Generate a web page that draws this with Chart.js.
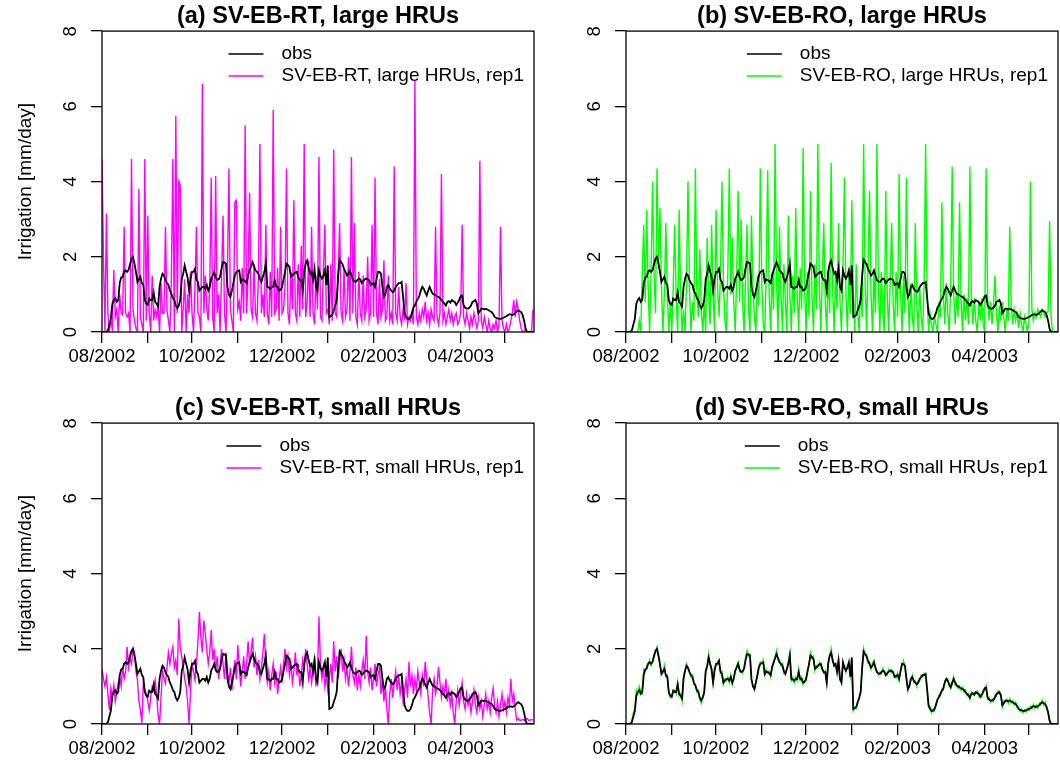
<!DOCTYPE html>
<html>
<head>
<meta charset="utf-8">
<script src="https://cdn.jsdelivr.net/npm/chart.js@4.4.1/dist/chart.umd.min.js"></script>
<style>
body{margin:0;background:#fff;}
#wrap{position:relative;width:1060px;height:769px;background:#fff;overflow:hidden;}
canvas{position:absolute;}
</style>
</head>
<body>
<div id="wrap">
<canvas id="pa" width="540" height="380" style="left:0;top:0"></canvas>
<canvas id="pb" width="536" height="380" style="left:524px;top:0"></canvas>
<canvas id="pc" width="540" height="377" style="left:0;top:392px"></canvas>
<canvas id="pd" width="536" height="377" style="left:524px;top:392px"></canvas>
</div>
<script>

// axis ticks (day offsets from 01/08/2002)
const monthTicks=[0,31,61,92,122,153,184,212,243,273];
const monthLabels=["08/2002","09/2002","10/2002","11/2002","12/2002","01/2003","02/2003","03/2003","04/2003","05/2003"];
const yTicks=[0,2,4,6,8];

// observed irrigation, mm/day (daily, from 01/08/2002)
const obs=[
0,0,0,0,0.05,0.2,0.35,0.75,0.85,0.9,
0.8,0.85,1.3,1.45,1.47,1.6,1.64,1.6,1.65,1.8,
1.95,2.0,1.82,1.6,1.33,1.4,1.47,1.3,1.25,0.85,
0.75,0.72,0.89,0.85,0.85,1.05,0.8,0.75,0.68,1.2,
1.42,1.55,1.5,1.38,1.3,1.25,1.1,1.02,0.9,0.85,
0.7,0.63,0.7,0.85,1.4,1.55,1.77,1.6,1.45,1.1,
1.42,1.6,1.6,1.68,1.4,1.33,1.1,1.15,1.2,1.2,
1.15,1.25,1.1,1.2,1.42,1.5,1.6,1.45,1.38,1.4,
1.47,1.7,1.86,1.85,1.82,1.2,1.0,0.93,1.1,1.3,
1.5,1.6,1.62,1.64,1.33,1.4,1.38,1.35,1.3,1.5,
1.64,1.75,1.86,1.75,1.64,1.6,1.55,1.4,1.33,1.47,
1.6,1.82,1.2,1.18,1.15,1.2,1.2,1.38,1.2,1.2,
1.1,1.12,1.2,1.4,1.6,1.82,1.78,1.73,1.47,1.5,
1.55,1.58,1.6,1.45,1.38,1.38,1.1,1.6,1.82,1.9,
1.7,1.55,1.6,1.38,1.68,1.2,1.1,1.64,1.5,1.42,
1.5,1.64,1.25,1.77,0.4,0.42,0.45,0.58,0.7,0.85,
1.5,1.93,1.86,1.8,1.68,1.6,1.5,1.55,1.64,1.5,
1.38,1.35,1.33,1.38,1.42,1.4,1.3,1.35,1.4,1.42,
1.4,1.38,1.25,1.28,1.3,1.2,1.4,1.6,1.6,1.55,
1.2,0.93,1.0,1.2,1.25,1.15,1.1,1.06,1.1,1.2,
1.25,1.3,1.3,1.33,0.93,0.5,0.4,0.35,0.35,0.4,
0.5,0.65,0.71,0.8,0.88,0.95,1.1,1.2,1.15,1.05,
0.97,1.1,1.2,1.1,1.02,1.0,0.97,0.95,0.93,0.9,
0.85,0.8,0.76,0.7,0.8,0.82,0.78,0.85,0.82,0.8,
0.72,0.78,0.85,0.95,0.97,0.71,0.65,0.62,0.62,0.65,
0.7,0.8,0.82,0.85,0.75,0.5,0.55,0.62,0.62,0.6,
0.62,0.6,0.58,0.55,0.53,0.48,0.4,0.38,0.36,0.35,
0.35,0.36,0.38,0.4,0.42,0.45,0.47,0.47,0.45,0.47,
0.5,0.55,0.58,0.55,0.53,0.45,0.3,0.08,0,0,
0,0,0];

// (a) SV-EB-RT, large HRUs
const rtLarge=[
4.6,2.0,0,3.15,0.5,0,0.3,0.1,1.65,0.4,
0.6,0,1.0,0.5,0.45,2.8,0.5,0.4,0.5,0,
4.6,0.6,0.3,0.1,0,3.8,0.4,0.2,0,4.6,
0.3,3.1,0.5,0,1.5,0.3,0.6,0.4,0.7,0,
1.3,0.5,0.5,2.8,0.6,0.3,0,1.4,4.6,0,
5.75,0.5,4.0,3.9,0,0.6,1.4,0,1.0,0.5,
1.6,0.5,0,1.2,2.8,0.5,0.4,0,6.6,0.5,
1.5,0.6,0.3,1.2,4.1,0.4,0,4.15,0.5,1.0,
0,1.5,3.1,0.5,0,1.6,4.35,0.6,0.3,0,
3.45,3.5,0.6,0.8,0.3,1.7,0.5,5.5,0.5,1.6,
3.7,0.6,0.4,1.8,0.5,0.3,1.5,5.0,0.5,1.0,
0.4,2.85,0.5,0.2,1.6,0.4,5.9,0.5,0.6,1.7,
0.3,2.8,0.5,0.6,1.2,4.35,0.5,0.2,1.6,0.6,
3.5,0.5,0.3,1.8,0.4,2.3,0.6,5.0,0.4,0.8,
1.9,0.4,2.8,0.5,0.2,1.5,0.6,4.65,0.4,0.3,
1.6,2.85,0.5,0.6,0.2,1.8,0.3,4.85,0.5,0.4,
1.5,2.9,0.5,0.3,1.7,0.4,0.6,2.0,0.3,4.65,
0.5,2.9,0.4,0.2,1.6,0.5,0.3,1.5,0.4,0.6,
2.0,0.3,0.5,2.85,0.4,4.1,0.5,0.2,1.4,0.4,
0.6,1.9,0.3,0.4,1.5,0.3,0.5,0.2,4.4,0.5,
0.3,1.2,0.4,0.2,0.6,0.3,1.3,0.2,0.4,0.3,
0.5,0.2,6.7,0.4,0.2,0.5,0.3,0.6,0.4,0.8,
0.3,0.5,0.2,0.6,0.4,0.3,2.8,0.4,0.2,0.5,
4.2,0.3,0.5,0.2,0.4,0.6,0.3,0.5,0.2,0.4,
0.5,0.2,0.3,0.5,2.85,0.4,0.2,0.5,0.3,0.1,
0.4,0.2,0.5,0.3,0.1,0.3,4.55,0.3,0.1,0.4,
0.2,0,0.3,0.1,0,0.2,0.1,0.3,0,0.2,
2.8,0.3,0.1,0,0.2,0,0.1,0.3,0.5,0.85,
0.4,0.8,0.6,0.3,0.1,0,0,0.1,0,0,
0,0,0.6];

// (b) SV-EB-RO, large HRUs
const roLarge=[
0,0,0,0,0,0,0,0,0,0.3,
0,1.5,2.85,0.8,3.25,1.2,0,1.6,4.0,1.5,
0.5,4.35,1.8,3.3,1.2,0,1.0,2.9,1.0,0,
0.8,0,1.2,2.85,0.9,0,3.25,1.0,0,0.6,
0,1.3,4.0,1.2,0,0.8,0.3,4.35,1.1,0.4,
2.2,0.6,0,0.8,0,2.5,1.0,0.2,2.85,1.0,
0,3.25,1.2,0.4,1.5,4.0,1.4,0.3,0,1.6,
4.35,1.0,2.5,0.8,0,1.5,3.75,0.8,3.0,0.8,
0,1.4,2.85,0.6,0,3.1,1.2,0.4,0,1.5,
0.7,4.35,1.3,0.2,0,1.6,4.3,1.0,0,1.6,
0.6,5.0,1.4,0,2.8,1.0,0,1.8,0.8,0,
3.1,1.0,0,1.5,0.5,3.3,1.0,0,1.7,0.6,
4.9,1.2,0,1.6,0.4,3.75,1.0,0,1.8,0.6,
5.0,1.2,0,1.5,2.9,0.8,0,1.6,0.5,4.5,
1.2,0,1.5,0.6,2.9,0.8,0,1.7,4.1,1.0,
0,1.6,0.5,3.5,1.0,0,1.8,0.5,0,1.2,
0.4,5.0,1.4,0,1.7,3.75,1.0,0,1.6,0.5,
5.0,1.2,0,1.6,0.5,0,3.75,1.0,0,1.4,
2.9,0.8,0,1.6,0.4,4.2,1.1,0,1.5,0.5,
4.1,1.0,0,1.3,0.4,0,2.9,0.8,0,1.2,
0.4,0,1.3,5.0,1.0,0,0.5,0.2,0,0.4,
0.2,0,0.8,0.4,3.45,1.0,0.2,1.3,0.5,0,
1.2,4.4,1.1,0.2,1.0,0.4,3.45,0.9,0,1.0,
0.3,0.9,0.2,4.4,1.0,0.2,0.9,0.3,0,0.8,
0.3,0.9,0.2,0,4.35,0.9,0.3,0.8,0.2,0.7,
1.5,0.5,0,0.7,0.3,0.8,0.4,0,0.6,0.3,
2.8,0.7,0.2,0.6,0.3,0.5,0.1,0.5,0.2,0,
0.4,0.2,0,0.3,4.0,0.6,0.3,0.5,0.4,0.6,
0.5,0.4,0.6,0.5,0.4,0.5,0.55,2.95,0.4,0,
0,0,0];

// (c) SV-EB-RT, small HRUs
const rtSmall=[
1.47,1.2,1.0,1.25,0.8,0.37,0.95,0.72,1.03,0.6,
0.86,1.1,1.25,1.0,1.52,1.2,1.39,2.05,1.5,1.74,
1.6,2.0,1.87,1.4,1.17,0.6,0.37,0.03,1.08,0.9,
0.81,0.6,0.37,0.72,1.0,0.9,1.17,0.8,0.24,0,
0.7,1.43,1.2,1.08,1.5,1.9,1.6,1.87,2.05,1.5,
1.7,1.3,2.8,2.05,1.8,1.52,1.2,1.0,0.6,0,
0.9,1.6,1.4,1.17,1.6,2.2,2.98,2.3,1.9,2.75,
2.4,1.96,1.6,1.9,2.5,1.7,2.0,1.4,1.8,1.2,
1.5,2.0,1.6,1.2,1.9,1.4,1.1,1.5,0.9,1.3,
1.7,1.2,2.1,1.5,1.0,1.4,1.8,1.2,1.6,2.2,
1.6,1.9,2.3,1.5,1.8,1.3,1.7,1.2,1.5,1.9,
2.4,1.5,1.1,1.4,0.9,1.3,1.6,1.1,1.4,0.8,
1.2,1.5,1.1,1.6,2.0,1.5,1.8,1.3,1.6,1.1,
1.4,1.9,1.3,1.6,1.0,1.3,1.7,1.4,2.0,1.6,
1.2,1.5,1.1,1.4,1.8,1.0,1.3,2.86,1.6,1.2,
1.5,1.0,1.3,0.9,1.2,1.6,1.1,2.2,1.4,1.8,
1.2,1.6,2.0,1.4,1.7,1.2,1.5,1.0,1.4,2.05,
1.3,1.1,1.5,0.9,1.3,1.0,1.4,1.7,1.2,2.34,
1.4,1.1,1.5,0.9,1.2,1.6,1.0,1.3,1.5,0.8,
1.2,0.6,1.0,0.4,0,0.8,1.2,0.7,1.1,1.4,
0.9,1.3,0.8,1.1,0.6,0.9,1.2,0.7,1.65,1.0,
1.3,0.8,1.2,0.9,1.4,1.1,0.8,1.3,1.0,1.65,
1.2,0.7,0.3,0,0.9,1.2,0.8,1.0,1.52,1.1,
0.7,1.0,0.8,1.2,0.6,0.9,0.5,0.8,0.3,0,
0.6,0.9,0.5,0.8,1.1,0.6,0.4,0.8,0.5,0.7,
0.3,0.6,0.9,0.5,0.3,0.7,0.4,0.6,0.2,0.5,
0.8,0.4,0.6,0.3,0.7,0.95,0.5,0.3,0.6,0.2,
0.5,0.8,0.4,0.6,0.3,0.7,0.5,1.2,0.6,0.8,
0.4,0.1,0.15,0.1,0.1,0.12,0.1,0.1,0.15,0.1,
0.1,0.12,0.1];

// (d) SV-EB-RO, small HRUs
const roSmall=[
0,0,0,0,0.1,0.3,0.4,0.9,0.8,1.0,
0.85,0.8,1.45,1.4,1.55,1.6,1.7,1.55,1.7,1.85,
1.9,2.05,1.8,1.55,1.4,1.35,1.55,1.25,1.3,0.8,
0.7,0.78,0.85,0.9,0.8,1.1,0.75,0.8,0.6,1.3,
1.4,1.6,1.45,1.4,1.25,1.3,1.05,1.05,0.85,0.9,
0.65,0.55,0.75,0.8,1.45,1.5,1.85,1.55,1.5,1.05,
1.5,1.55,1.65,1.7,1.35,1.4,1.05,1.2,1.15,1.25,
1.1,1.3,1.05,1.25,1.4,1.55,1.65,1.4,1.42,1.35,
1.5,1.75,1.95,1.8,1.85,1.15,1.05,0.9,1.15,1.25,
1.55,1.65,1.6,1.7,1.3,1.45,1.35,1.4,1.25,1.55,
1.6,1.8,1.95,1.7,1.7,1.55,1.6,1.35,1.4,1.45,
1.65,1.9,1.15,1.25,1.1,1.25,1.15,1.45,1.15,1.25,
1.05,1.15,1.15,1.45,1.55,1.9,1.75,1.8,1.42,1.55,
1.5,1.65,1.55,1.5,1.35,1.42,1.05,1.65,1.8,2.0,
1.65,1.6,1.55,1.42,1.75,1.15,1.15,1.6,1.55,1.38,
1.55,1.6,1.3,1.72,0.35,0.45,0.42,0.62,0.65,0.9,
1.45,2.0,1.82,1.85,1.62,1.65,1.45,1.6,1.7,1.45,
1.42,1.3,1.38,1.33,1.48,1.35,1.35,1.3,1.45,1.38,
1.45,1.33,1.3,1.22,1.35,1.15,1.45,1.55,1.68,1.5,
1.25,0.88,1.05,1.15,1.3,1.1,1.15,1.0,1.15,1.15,
1.3,1.25,1.35,1.3,0.98,0.45,0.45,0.3,0.4,0.35,
0.55,0.6,0.76,0.75,0.92,0.9,1.15,1.15,1.2,1.0,
1.02,1.05,1.25,1.05,1.08,0.95,1.02,0.9,0.98,0.85,
0.9,0.75,0.8,0.65,0.85,0.78,0.82,0.8,0.88,0.75,
0.78,0.72,0.9,0.9,1.02,0.66,0.7,0.58,0.66,0.6,
0.75,0.75,0.88,0.8,0.8,0.45,0.6,0.58,0.66,0.55,
0.67,0.55,0.62,0.5,0.58,0.43,0.45,0.33,0.4,0.3,
0.38,0.32,0.42,0.36,0.47,0.4,0.52,0.42,0.5,0.42,
0.55,0.5,0.63,0.5,0.58,0.4,0.35,0.12,0,0,
0,0,0];

const FONT="'Liberation Sans', Arial, sans-serif";
const PLOT_TOP=30, PLOT_BOTTOM=332, PLOT_LEFT=102, PLOT_RIGHT=534;

const toXY=arr=>arr.map((v,i)=>({x:i,y:v}));

// box, title and legend drawn R-style
const panelText={
id:"panelText",
afterDraw(chart,args,opts){
const ctx=chart.ctx;
const a=chart.chartArea;
ctx.save();
ctx.strokeStyle="#000";
ctx.lineWidth=1.3;
ctx.strokeRect(a.left,a.top,a.right-a.left,a.bottom-a.top);

ctx.fillStyle="#000";
ctx.textAlign="center";
ctx.textBaseline="middle";
ctx.font="bold 23.5px "+FONT;
ctx.fillText(opts.title,(a.left+a.right)/2,17);

ctx.font="19px "+FONT;
ctx.textAlign="left";
const sets=chart.data.datasets;
let maxW=0;
sets.forEach(d=>{maxW=Math.max(maxW,ctx.measureText(d.label).width);});
const textX=a.right-10-maxW;
sets.forEach((d,i)=>{
const y=54+i*22;
ctx.strokeStyle=d.borderColor;
ctx.lineWidth=1.6;
ctx.beginPath();
ctx.moveTo(textX-53,y);
ctx.lineTo(textX-18,y);
ctx.stroke();
ctx.fillText(d.label,textX,y);
});
ctx.restore();
}
};

function makePanel(id,title,series,color,label,showYTitle){
const cv=document.getElementById(id);
const H=cv.height, W=cv.width;
return new Chart(cv,{
type:"line",
data:{
datasets:[
{label:"obs",data:toXY(obs),borderColor:"#000000",borderWidth:1.8,pointRadius:0,tension:0},
{label:label,data:toXY(series),borderColor:color,borderWidth:1.4,pointRadius:0,tension:0}
]
},
options:{
responsive:false,
animation:false,
devicePixelRatio:1,
layout:{padding:{top:PLOT_TOP,right:W-PLOT_RIGHT,left:0,bottom:0}},
plugins:{
legend:{display:false},
title:{display:false},
tooltip:{enabled:false},
panelText:{title:title}
},
scales:{
x:{
type:"linear",
min:0,
max:292.7,
afterBuildTicks:s=>{s.ticks=monthTicks.map(v=>({value:v}));},
afterFit:s=>{s.height=H-PLOT_BOTTOM;},
border:{display:false},
grid:{drawOnChartArea:false,tickLength:11,color:"#000",lineWidth:1.3},
ticks:{
autoSkip:false,maxRotation:0,minRotation:0,padding:3,color:"#000",
font:{family:FONT,size:18.5},
callback:(v,i)=>i%2===0?monthLabels[i]:""
}
},
y:{
min:0,
max:8,
afterBuildTicks:s=>{s.ticks=yTicks.map(v=>({value:v}));},
afterFit:s=>{s.width=PLOT_LEFT;},
border:{display:false},
grid:{drawOnChartArea:false,tickLength:11,color:"#000",lineWidth:1.3},
ticks:{
minRotation:90,maxRotation:90,padding:20,labelOffset:-5,color:"#000",
font:{family:FONT,size:18.5}
},
title:{
display:showYTitle,
text:"Irrigation [mm/day]",
color:"#000",
font:{family:FONT,size:19},
padding:{top:14,bottom:0}
}
}
}
},
plugins:[panelText]
});
}

makePanel("pa","(a) SV-EB-RT, large HRUs",rtLarge,"#ff00ff","SV-EB-RT, large HRUs, rep1",true);
makePanel("pb","(b) SV-EB-RO, large HRUs",roLarge,"#00ff00","SV-EB-RO, large HRUs, rep1",false);
makePanel("pc","(c) SV-EB-RT, small HRUs",rtSmall,"#ff00ff","SV-EB-RT, small HRUs, rep1",true);
makePanel("pd","(d) SV-EB-RO, small HRUs",roSmall,"#00ff00","SV-EB-RO, small HRUs, rep1",false);

</script>
</body>
</html>
